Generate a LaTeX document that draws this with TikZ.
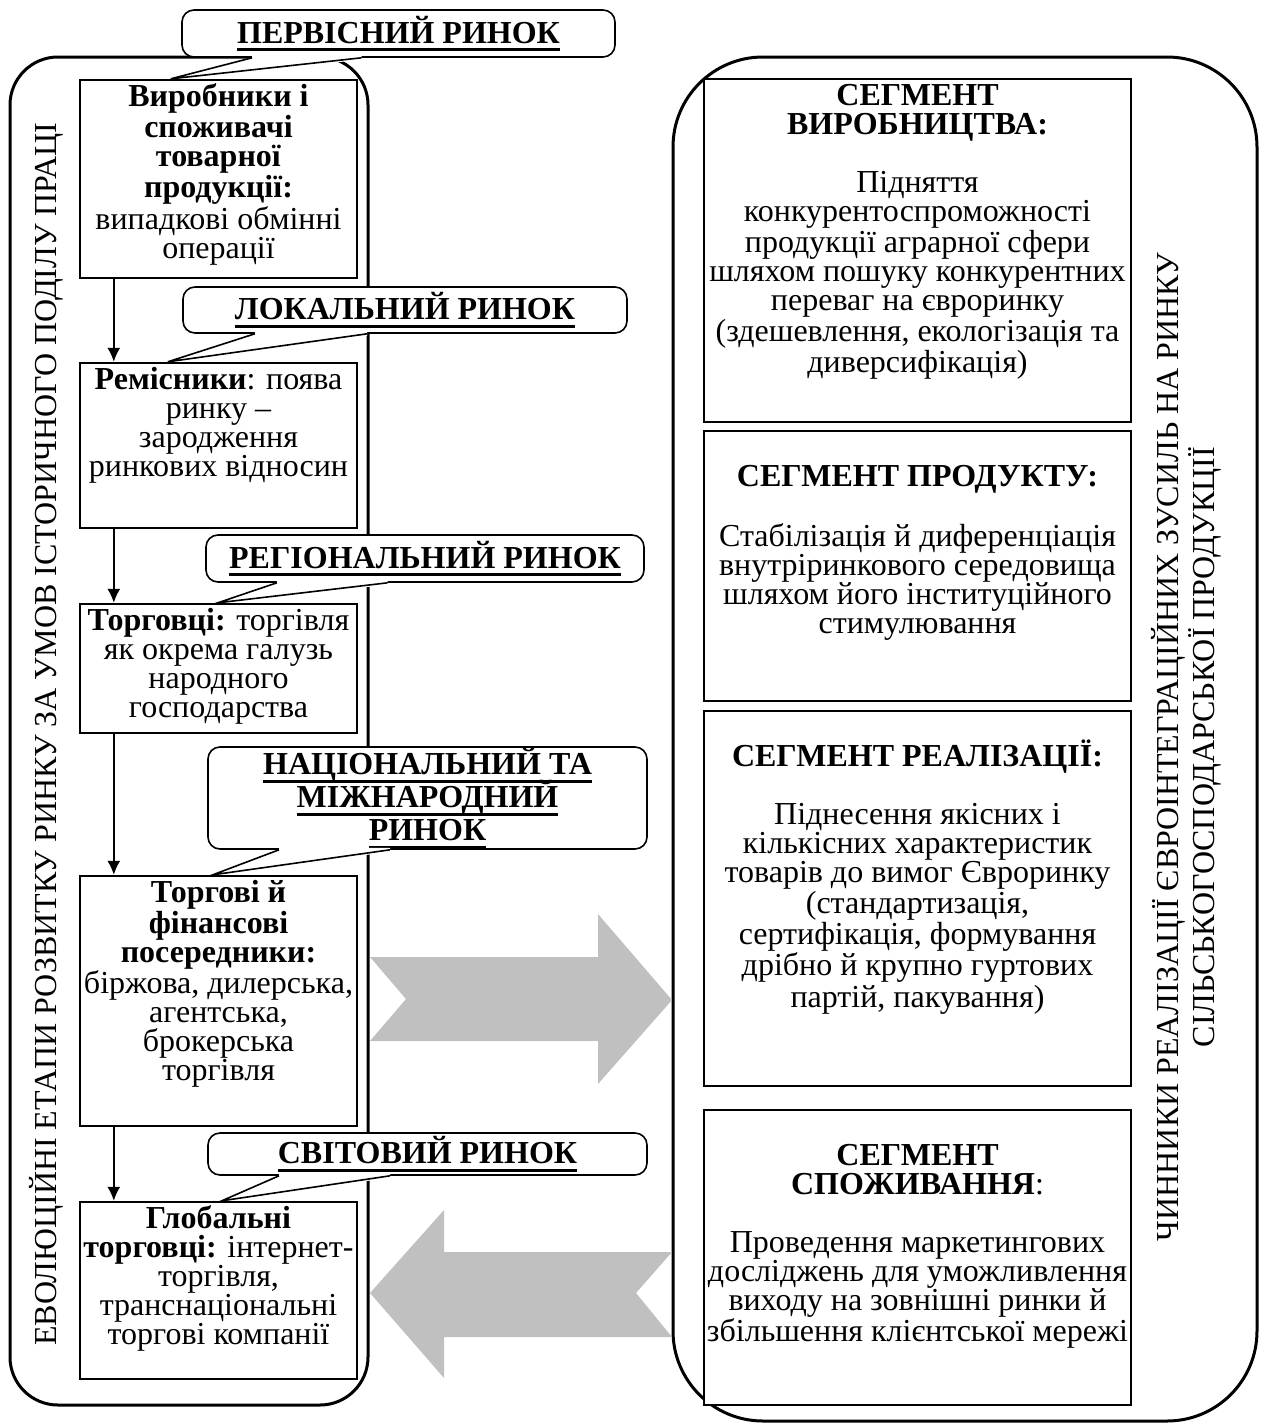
\documentclass[tikz,border=0pt]{standalone}
\usepackage{fontspec}
\setmainfont{Liberation Serif}
\usetikzlibrary{arrows.meta}
\definecolor{arrowgray}{RGB}{192,192,192}
\newcommand{\mktfont}{\fontsize{16}{16.5}\selectfont\setlength{\lineskiplimit}{-20pt}\bfseries}
\tikzstyle{frame} = [rectangle, draw=black, line width=1.5pt]
\tikzstyle{stage} = [rectangle, draw=black, line width=1.2pt, fill=white, inner xsep=1pt, inner ysep=2pt]
\tikzstyle{market} = [rectangle, rounded corners=6pt, draw=black, line width=0.8pt, fill=white, inner sep=0pt, font=\mktfont]
\newcommand{\topbox}[3]{\parbox[t][#2][t]{#1}{\centering\rule{0pt}{11pt}#3}}
\newsavebox{\mktbox}
\newcommand{\mkt}[1]{\sbox{\mktbox}{#1}\rlap{\rule[-3.9pt]{\wd\mktbox}{1.4pt}}\usebox{\mktbox}}
\newcommand{\calloutwedge}[2]{%
  \path (#1.south west) -- (#1.south east) coordinate[pos=0.163] (#1-l) coordinate[pos=0.415] (#1-r);
  \fill[white] ([yshift=1pt]#1-l) -- ([yshift=1pt]#1-r) -- ([yshift=-1pt]#1-r) -- (#2) -- ([yshift=-1pt]#1-l) -- cycle;
  \draw[line width=0.8pt] (#1-l) -- (#2) -- (#1-r);}

\begin{document}
\begin{tikzpicture}[x=0.5pt,y=-0.5pt,every node/.style={font=\fontsize{16}{14.5}\selectfont}]
        \useasboundingbox (0,0) rectangle (1260,1424);
        \node[frame, rounded corners=24pt, minimum width=179pt, minimum height=674pt] (evo) at (189,731) {};
        \node[frame, rounded corners=45pt, minimum width=292pt, minimum height=682pt] (fac) at (965,739) {};
        \node[rotate=90] (evotext) at (46,734) {ЕВОЛЮЦІЙНІ ЕТАПИ РОЗВИТКУ РИНКУ ЗА УМОВ ІСТОРИЧНОГО ПОДІЛУ ПРАЦІ};
        \node[rotate=90, align=center, font=\fontsize{16}{18}\selectfont] (factext) at (1186,747) {ЧИННИКИ РЕАЛІЗАЦІЇ ЄВРОІНТЕГРАЦІЙНИХ ЗУСИЛЬ НА РИНКУ\\СІЛЬСЬКОГОСПОДАРСЬКОЇ ПРОДУКЦІЇ};
        \fill[arrowgray] (370,957) -- (598,957) -- (598,914) -- (672,1000) -- (598,1084) -- (598,1041) -- (370,1041) -- (406,999) -- cycle;
        \fill[arrowgray] (370,1293) -- (444,1210) -- (444,1252) -- (672,1252) -- (636,1293) -- (672,1337) -- (444,1337) -- (444,1378) -- cycle;
        \node[stage] (b1) at (218.5,179) {\topbox{136.5pt}{95pt}{\textbf{Виробники і}\\\textbf{споживачі}\\\textbf{товарної}\\\textbf{продукції:}\\випадкові обмінні\\операції}};
        \node[stage] (b2) at (218.5,445.5) {\topbox{136.5pt}{78.5pt}{\textbf{Ремісники}: поява\\ринку --\\зародження\\ринкових відносин}};
        \node[stage] (b3) at (218.5,668.5) {\topbox{136.5pt}{60.5pt}{\textbf{Торговці:} торгівля\\як окрема галузь\\народного\\господарства}};
        \node[stage] (b4) at (218.5,1001) {\topbox{136.5pt}{121pt}{\textbf{Торгові й}\\\textbf{фінансові}\\\textbf{посередники:}\\біржова, дилерська,\\агентська,\\брокерська\\торгівля}};
        \node[stage] (b5) at (218.5,1290.5) {\topbox{136.5pt}{84.5pt}{\textbf{Глобальні}\\\textbf{торговці:} інтернет-\\торгівля,\\транснаціональні\\торгові компанії}};
        \node[stage] (s1) at (917.5,250.5) {\topbox{211.5pt}{167.5pt}{\textbf{СЕГМЕНТ}\\\textbf{ВИРОБНИЦТВА:}\\[14.5pt]Підняття\\конкурентоспроможності\\продукції аграрної сфери\\шляхом пошуку конкурентних\\переваг на євроринку\\(здешевлення,  екологізація та\\диверсифікація)}};
        \node[stage] (s2) at (917.5,566) {\topbox{211.5pt}{131pt}{\\\textbf{СЕГМЕНТ ПРОДУКТУ:}\\[14.5pt]Стабілізація й диференціація\\внутріринкового середовища\\шляхом його інституційного\\стимулювання}};
        \node[stage] (s3) at (917.5,898.5) {\topbox{211.5pt}{183.5pt}{\\\textbf{СЕГМЕНТ РЕАЛІЗАЦІЇ:}\\[14.5pt]Піднесення якісних і\\кількісних характеристик\\товарів до вимог Євроринку\\(стандартизація,\\сертифікація, формування\\дрібно й крупно гуртових\\партій, пакування)}};
        \node[stage] (s4) at (917.5,1257.5) {\topbox{211.5pt}{143.5pt}{\\\textbf{СЕГМЕНТ}\\\textbf{СПОЖИВАННЯ}:\\[14.5pt]Проведення маркетингових\\досліджень для уможливлення\\виходу на зовнішні ринки й\\збільшення клієнтської мережі}};
        \node[market, minimum width=216.5pt, minimum height=23.5pt] (m1) at (398.5,33.5) {\mkt{ПЕРВІСНИЙ РИНОК}};
        \node[market, minimum width=222pt, minimum height=23pt] (m2) at (405,310) {\mkt{ЛОКАЛЬНИЙ РИНОК}};
        \node[market, minimum width=219pt, minimum height=23.5pt] (m3) at (425,558.5) {\mkt{РЕГІОНАЛЬНИЙ РИНОК}};
        \node[market, minimum width=219.5pt, minimum height=51pt, align=center] (m4) at (427.5,798) {\mkt{НАЦІОНАЛЬНИЙ ТА}\\\mkt{МІЖНАРОДНИЙ}\\\mkt{РИНОК}};
        \node[market, minimum width=219.5pt, minimum height=21pt] (m5) at (427.5,1154) {\mkt{СВІТОВИЙ РИНОК}};
        \calloutwedge{m1}{[xshift=46pt]b1.north west}
        \calloutwedge{m2}{[xshift=44.5pt]b2.north west}
        \calloutwedge{m3}{[xshift=69.5pt]b3.north west}
        \calloutwedge{m4}{[xshift=67pt]b4.north west}
        \calloutwedge{m5}{[xshift=71.5pt]b5.north west}
        \begin{scope}[-{Latex[length=7pt,width=6.5pt]}, line width=0.8pt]
            \draw ([xshift=17.5pt]b1.south west) -- ([xshift=17.5pt]b2.north west);
            \draw ([xshift=17.5pt]b2.south west) -- ([xshift=17.5pt]b3.north west);
            \draw ([xshift=17.5pt]b3.south west) -- ([xshift=17.5pt]b4.north west);
            \draw ([xshift=17.5pt]b4.south west) -- ([xshift=17.5pt]b5.north west);
        \end{scope}
    \end{tikzpicture}
\end{document}
